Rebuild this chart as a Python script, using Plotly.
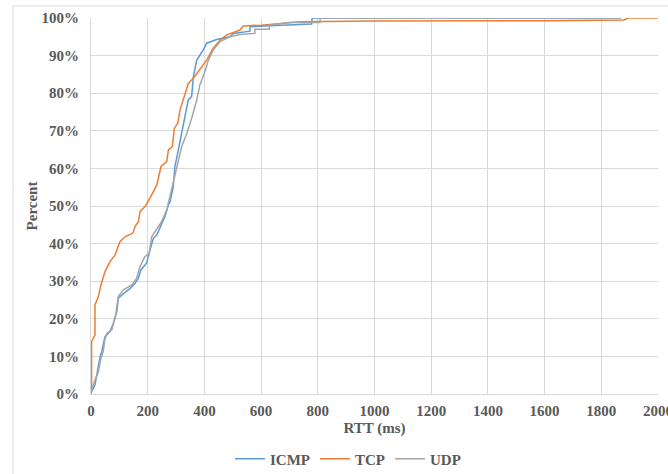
import plotly.graph_objects as go

# RTT (ms) and cumulative percent values
icmp_rtt = [0, 2, 14, 24, 32, 38, 49, 67, 79, 91, 96, 108, 138, 155, 167, 176, 196, 208, 220, 232,
            249, 261, 273, 279, 290, 296, 308, 320, 332, 343, 355, 361, 373, 396, 408, 443, 490, 502,
            561, 561, 650, 778, 780, 1870]
icmp_pct = [0, 0.6, 2.4, 6.9, 9.9, 11.3, 15.2, 16.6, 18.8, 21.9, 25.4, 26.3, 28.1, 29.4, 30.8, 33.0,
            34.8, 38.3, 41.4, 42.3, 45.4, 47.2, 50.3, 51.1, 55.1, 60.5, 64.9, 69.3, 73.8, 78.2, 79.1,
            84.4, 88.8, 91.5, 93.3, 94.3, 95.0, 95.9, 96.5, 97.7, 98.0, 98.4, 100, 100]

tcp_rtt = [0, 2, 2, 14, 14, 26, 35, 49, 67, 85, 102, 120, 148, 155, 167, 173, 190, 196, 220, 232,
           247, 267, 273, 287, 294, 306, 314, 326, 343, 361, 384, 408, 431, 455, 479, 526, 537, 602,
           737, 1000, 1600, 1880, 1895, 2000]
tcp_pct = [0, 1.0, 13.9, 15.7, 23.7, 25.9, 29.0, 32.5, 35.2, 37.0, 40.5, 41.8, 42.8, 44.5, 45.8, 48.5,
           49.8, 50.5, 53.8, 55.6, 60.5, 61.8, 64.9, 65.8, 70.7, 72.0, 75.5, 78.2, 82.6, 84.0, 86.2,
           88.8, 92.0, 94.1, 95.5, 96.8, 97.9, 98.1, 99.0, 99.2, 99.3, 99.5, 100, 100]

udp_rtt = [0, 2, 12, 26, 35, 43, 49, 55, 73, 87, 96, 114, 144, 161, 173, 190, 205, 214, 226, 249,
           267, 285, 302, 320, 338, 355, 373, 384, 402, 414, 431, 455, 490, 526, 578, 578, 629, 629,
           700, 808, 808, 1870]
udp_pct = [0, 1.0, 3.3, 5.9, 9.5, 11.3, 14.4, 16.1, 17.0, 21.0, 25.9, 27.7, 29.0, 30.8, 33.9, 36.5,
           37.4, 41.8, 43.2, 45.8, 48.9, 54.7, 60.5, 65.8, 69.3, 73.3, 78.2, 82.2, 85.7, 88.8, 91.5,
           93.7, 95.0, 95.6, 95.9, 97.0, 97.0, 98.1, 98.8, 98.8, 100, 100]

x_ticks = [0, 200, 400, 600, 800, 1000, 1200, 1400, 1600, 1800, 2000]
y_ticks = [0, 10, 20, 30, 40, 50, 60, 70, 80, 90, 100]
y_tick_labels = [f"{v}%" for v in y_ticks]

FONT = "Liberation Serif"
TXT = "#595959"
GRID = "#D9D9D9"

fig = go.Figure()
for name, xs, ys, col in [("ICMP", icmp_rtt, icmp_pct, "#5B9BD5"),
                          ("TCP", tcp_rtt, tcp_pct, "#ED7D31"),
                          ("UDP", udp_rtt, udp_pct, "#A5A5A5")]:
    fig.add_trace(go.Scatter(x=xs, y=ys, mode="lines", name=name,
                             line=dict(color=col, width=1.5)))

W, H = 668, 474
L, R, T, B = 91, 10, 18, 80
pw, ph = W - L - R, H - T - B


def px_x(p):
    return (p - L) / pw


def px_y(p):
    return (H - B - p) / ph


fig.add_shape(type="rect", xref="paper", yref="paper",
              x0=px_x(13), x1=px_x(720), y0=px_y(6), y1=px_y(520),
              line=dict(color="#D9D9D9", width=1), fillcolor="rgba(0,0,0,0)", layer="below")

bold = dict(family=FONT, size=15, color=TXT, weight="bold")

fig.update_layout(
    width=W, height=H,
    margin=dict(l=L, r=R, t=T, b=B, autoexpand=False),
    paper_bgcolor="white", plot_bgcolor="white",
    font=dict(family=FONT, color=TXT, size=15),
    showlegend=True,
    legend=dict(orientation="h", x=px_x(348), xanchor="center", y=px_y(459), yanchor="middle",
                font=bold, itemwidth=30, tracegroupgap=0, bgcolor="rgba(0,0,0,0)"),
    xaxis=dict(range=[0, 2000], tickvals=x_ticks, ticktext=[str(v) for v in x_ticks],
               showgrid=True, gridcolor=GRID, gridwidth=1, automargin=False,
               showline=True, linecolor=GRID, linewidth=1, zeroline=False,
               ticks="", ticklabelstandoff=3, ticklabeloverflow="allow",
               tickfont=bold,
               title=dict(text="RTT (ms)", standoff=4, font=bold)),
    yaxis=dict(range=[0, 100], tickvals=y_ticks, ticktext=y_tick_labels,
               showgrid=True, gridcolor=GRID, gridwidth=1, automargin=False,
               showline=True, linecolor=GRID, linewidth=1, zeroline=False,
               ticks="", ticklabelstandoff=8, ticklabeloverflow="allow",
               tickfont=bold,
               title=dict(text="Percent", standoff=0, font=bold)),
)

fig.write_html("out.html", config={"displayModeBar": False},
               post_script="document.body.style.margin='0px';")
